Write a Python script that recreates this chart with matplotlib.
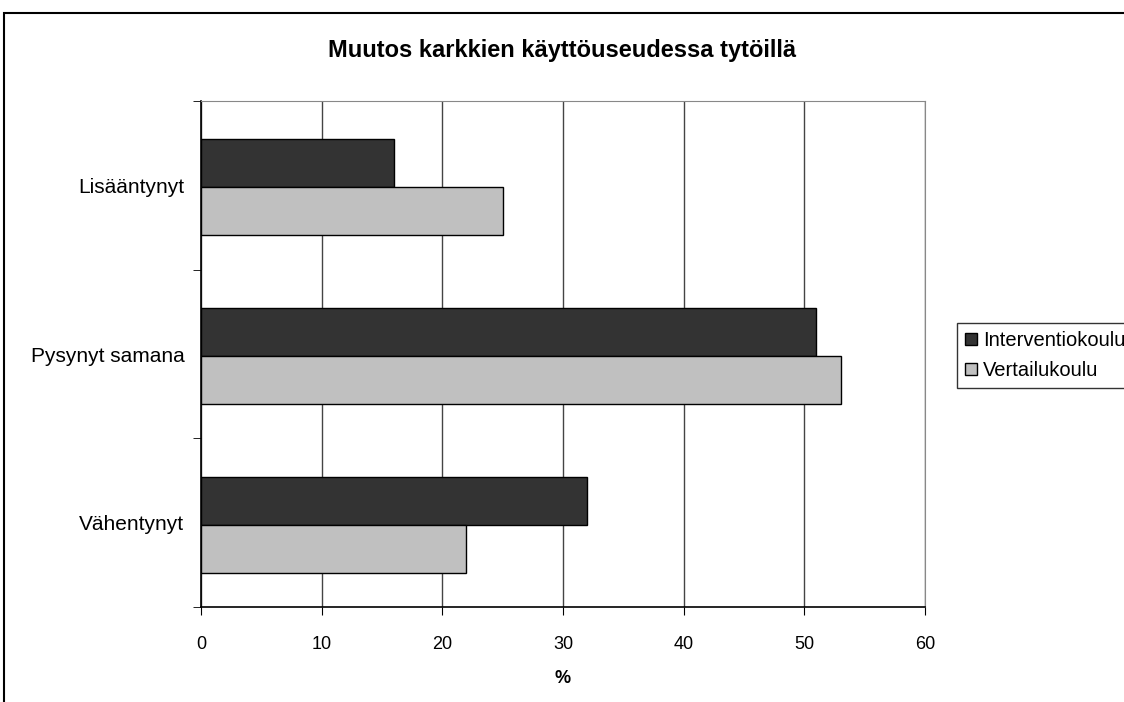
import matplotlib.pyplot as plt
import matplotlib.patches as patches
import numpy as np

plt.rcParams['font.family'] = ['Liberation Sans', 'DejaVu Sans']

categories = ["Lisääntynyt", "Pysynyt samana", "Vähentynyt"]
interventio = [16, 51, 32]
vertailu = [25, 53, 22]
series_names = ["Interventiokoulu", "Vertailukoulu"]
xticks = [0, 10, 20, 30, 40, 50, 60]

fig = plt.figure(figsize=(11.24, 7.02), dpi=100)
ax = fig.add_axes([201 / 1124, 1 - 607 / 702, 724 / 1124, 506 / 702])

pos = np.arange(len(categories))[::-1]
h = 0.284
# bars drawn a touch lower, as in the reference
off = -0.012
ax.barh(pos + h / 2 + off, interventio, height=h, color="#333333", edgecolor="black",
        linewidth=1, label=series_names[0], zorder=3)
ax.barh(pos - h / 2 + off, vertailu, height=h, color="#c0c0c0", edgecolor="black",
        linewidth=1, label=series_names[1], zorder=3)

ax.set_xlim(0, 60)
ax.set_ylim(-0.5, 2.5)
ax.set_xticks(xticks)
ax.set_xticklabels([str(t) for t in xticks], fontsize=13)
ax.set_yticks(pos)
ax.set_yticklabels(categories, fontsize=15)
ax.tick_params(axis="y", which="major", length=0, pad=12)
ax.set_yticks([-0.5, 0.5, 1.5, 2.5], minor=True)
ax.tick_params(axis="y", which="minor", length=6, direction="out", color="black")
ax.tick_params(axis="x", length=6, direction="out", pad=15, color="black")

ax.xaxis.grid(True, color="#444444", linewidth=1, zorder=0)
ax.set_axisbelow(True)
for s in ["top", "right"]:
    ax.spines[s].set_color("#888888")
for s in ["left", "bottom"]:
    ax.spines[s].set_color("black")
    ax.spines[s].set_linewidth(1.2)

ax.set_xlabel("%", fontsize=13, fontweight="bold", labelpad=12)
fig.text(0.5, 1 - 50 / 702, "Muutos karkkien käyttöuseudessa tytöillä",
         ha="center", va="center", fontsize=17, fontweight="bold")

leg = fig.legend(loc="upper left", bbox_to_anchor=(957 / 1124, 1 - 323 / 702),
                 fontsize=14.5, frameon=True, fancybox=False, borderpad=0.4,
                 handlelength=0.6, handleheight=0.6, handletextpad=0.3,
                 labelspacing=0.55, borderaxespad=0)
leg.get_frame().set_edgecolor("black")
leg.get_frame().set_linewidth(1)

fig.patches.append(patches.Rectangle((4 / 1124, -0.1), 1.2, 1 - 13 / 702 + 0.1,
                                     transform=fig.transFigure, fill=False,
                                     edgecolor="black", linewidth=1.5))

fig.savefig("out.png", dpi=100)
